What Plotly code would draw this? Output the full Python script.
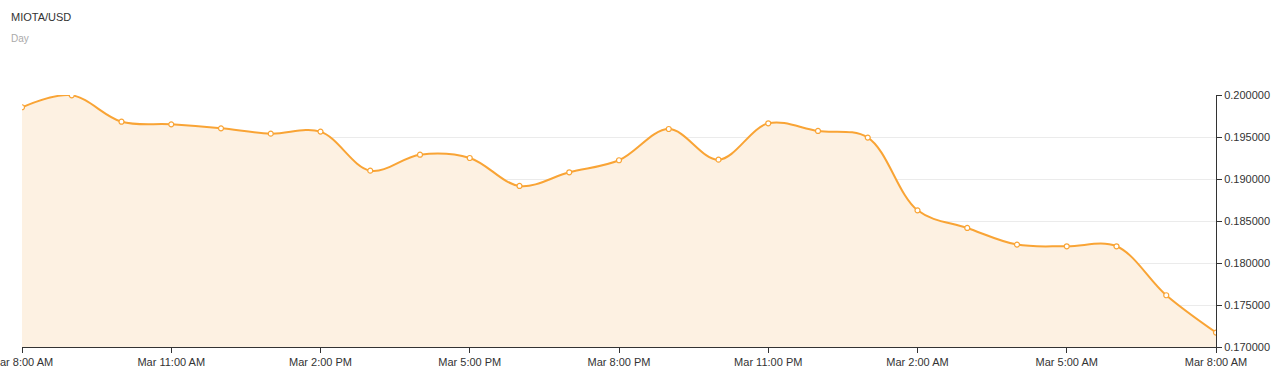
import plotly.graph_objects as go
import pandas as pd

# Hourly MIOTA/USD prices, Mar 8:00 AM -> next day 8:00 AM
times = pd.date_range("2018-03-01 08:00", periods=25, freq="h")
prices = [0.19854, 0.19996, 0.19682, 0.19651, 0.19603, 0.19540, 0.19564,
          0.19099, 0.19289, 0.19250, 0.18917, 0.19080, 0.19223, 0.19595,
          0.19230, 0.19663, 0.19572, 0.19493, 0.18627, 0.18417, 0.18219,
          0.18199, 0.18199, 0.17616, 0.17172]
y_ticks = [0.170, 0.175, 0.180, 0.185, 0.190, 0.195, 0.200]

LINE = "#f9a435"
FONT = "Arial, Liberation Sans, sans-serif"

fig = go.Figure()
fig.add_trace(go.Scatter(
    x=times, y=prices, mode="lines+markers",
    line=dict(color=LINE, width=2, shape="spline", smoothing=1.0),
    marker=dict(size=5, color="white", line=dict(color=LINE, width=1.2)),
    fill="tozeroy", fillcolor="#fdf1e2",
    hoverinfo="x+y", showlegend=False,
))

fig.update_layout(
    width=1285, height=375,
    margin=dict(l=22, r=69, t=95, b=28, autoexpand=False),
    paper_bgcolor="white", plot_bgcolor="white",
    font=dict(family=FONT, size=11, color="#333"),
    xaxis=dict(
        type="date",
        range=[times[0], times[-1]],
        tickmode="array",
        tickvals=list(times[::3]),
        tickformat="%b %-I:%M %p",
        showgrid=False, zeroline=False,
        showline=True, linecolor="#333", linewidth=1,
        ticks="outside", ticklen=5, tickcolor="#333",
        tickfont=dict(size=11, color="#333"),
        automargin=False, ticklabeloverflow="allow",
    ),
    yaxis=dict(
        side="right",
        range=[0.17, 0.2],
        tickvals=y_ticks,
        tickformat=".6f",
        showgrid=True, gridcolor="#ebebeb", gridwidth=1,
        zeroline=False,
        showline=True, linecolor="#333", linewidth=1,
        ticks="outside", ticklen=5, tickcolor="#333",
        tickfont=dict(size=11, color="#333"),
        automargin=False, ticklabeloverflow="allow",
    ),
)
fig.add_annotation(text="MIOTA/USD", xref="paper", yref="paper",
                   x=-13/1194, y=1 + (95 - 17) / 252, xanchor="left", yanchor="middle",
                   showarrow=False, font=dict(size=11, color="#333"))
fig.add_annotation(text="Day", xref="paper", yref="paper",
                   x=-13/1194, y=1 + (95 - 39) / 252, xanchor="left", yanchor="middle",
                   showarrow=False, font=dict(size=10, color="#aaa"))

fig.write_html("out.html", config={"displayModeBar": False},
               post_script="document.body.style.margin='0';document.body.style.overflow='hidden';")
